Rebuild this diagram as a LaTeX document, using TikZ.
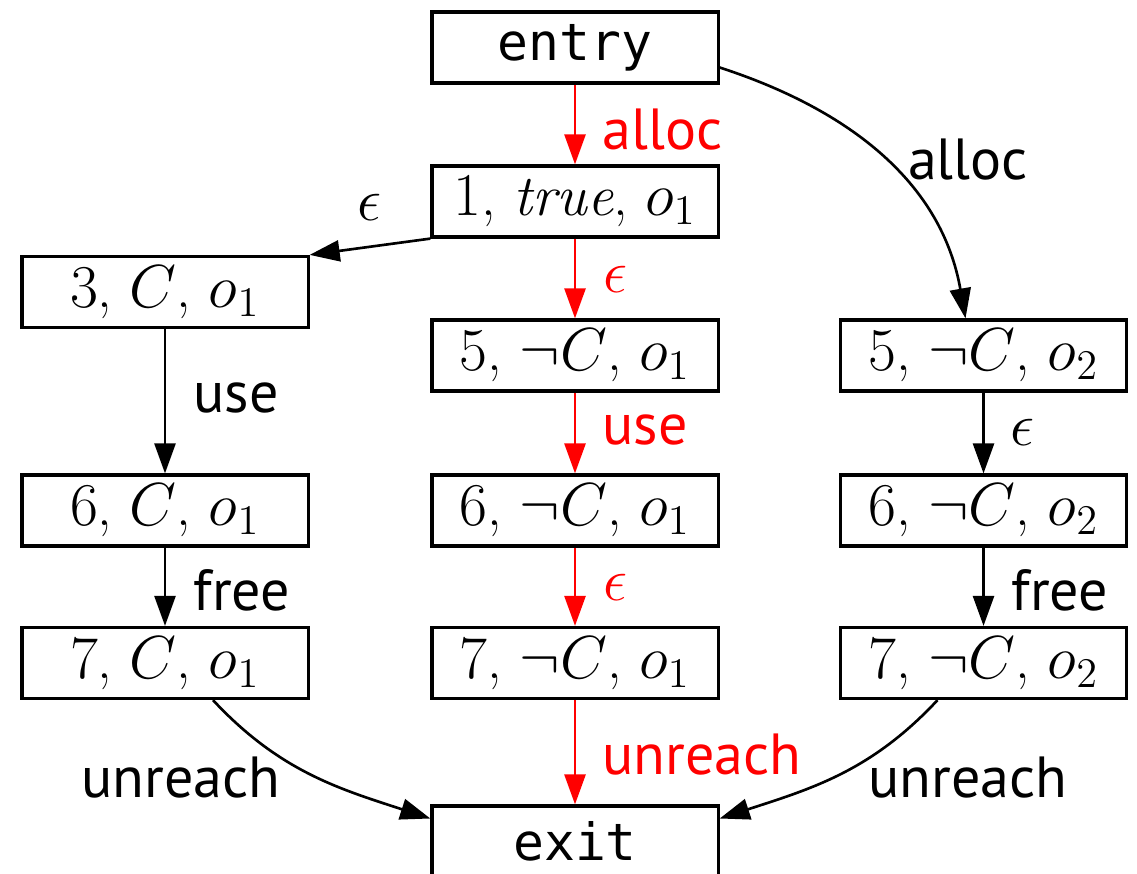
\documentclass[tikz,border=0pt]{standalone}
\usepackage{fontspec}
\setsansfont{PT Sans}
\setmonofont{DejaVu Sans Mono}
\usetikzlibrary{arrows.meta}
\tikzset{
  box/.style={draw, line width=0.9pt, minimum width=2.86cm, minimum height=0.71cm, inner sep=0pt, font=\fontsize{16.5}{19}\selectfont},
  mbox/.style={box, font=\fontsize{14.6}{17}\selectfont\ttfamily},
  edge/.style={line width=0.75pt, -{Triangle[length=0.3cm,width=0.21cm]}},
  redge/.style={edge, red},
  lbl/.style={font=\fontsize{16.5}{19}\sffamily, inner sep=0pt},
  elbl/.style={font=\fontsize{17.5}{20}\selectfont, inner sep=0pt},
}
\begin{document}
\begin{tikzpicture}[x=0.01cm,y=-0.01cm]
\useasboundingbox (0,0) rectangle (1137,873);
\node[mbox] (entry) at (575,47.5) {entry};
\node[box] (n1) at (575,201.5) {$1$, \textit{true}, $o_1$};
\node[box] (c3) at (165,292) {$3$, $C$, $o_1$};
\node[box] (a5) at (575,355.5) {$5$, $\neg C$, $o_1$};
\node[box] (b5) at (983.5,355.5) {$5$, $\neg C$, $o_2$};
\node[box] (c6) at (165,510.5) {$6$, $C$, $o_1$};
\node[box] (a6) at (575,510.5) {$6$, $\neg C$, $o_1$};
\node[box] (b6) at (983.5,510.5) {$6$, $\neg C$, $o_2$};
\node[box] (c7) at (165,663) {$7$, $C$, $o_1$};
\node[box] (a7) at (575,663) {$7$, $\neg C$, $o_1$};
\node[box] (b7) at (983.5,663) {$7$, $\neg C$, $o_2$};
\node[mbox] (exit) at (575,841.5) {exit};

\draw[redge] (entry) -- (n1);
\node[lbl, red, anchor=west] (l1) at (602,130) {alloc};
\draw[redge] (n1) -- (a5);
\node[elbl, red, anchor=west] (l2) at (603,279) {$\epsilon$};
\draw[redge] (a5) -- (a6);
\node[lbl, red, anchor=west] (l3) at (602,430) {use};
\draw[redge] (a6) -- (a7);
\node[elbl, red, anchor=west] (l4) at (603,587) {$\epsilon$};
\draw[redge] (a7) -- (exit);
\node[lbl, red, anchor=west] (l5) at (602,755) {unreach};

\draw[edge] (n1.south west) -- (c3.north east);
\node[elbl] (l6) at (370,207) {$\epsilon$};
\draw[edge] (c3) -- (c6);
\node[lbl, anchor=west] (l7) at (193,398) {use};
\draw[edge] (c6) -- (c7);
\node[lbl, anchor=west] (l8) at (193,590) {free};
\path (c7.south) ++(48,0) coordinate (c7s);
\path (exit.west) ++(0,-23) coordinate (exw);
\draw[edge] (c7s) to[out=-47, in=162] (exw);
\node[lbl] (l9) at (181,778) {unreach};

\path (entry.east) ++(0,20) coordinate (ees);
\path (b5.north) ++(-18,0) coordinate (b5n);
\draw[edge] (ees) to[out=-18, in=100] (b5n);
\node[lbl] (l10) at (968,160) {alloc};
\draw[edge] (b5) -- (b6);
\node[elbl, anchor=west] (l11) at (1010,432) {$\epsilon$};
\draw[edge] (b6) -- (b7);
\node[lbl, anchor=west] (l12) at (1011,590) {free};
\path (b7.south) ++(-46,0) coordinate (b7s);
\path (exit.east) ++(0,-23) coordinate (exe);
\draw[edge] (b7s) to[out=-133, in=18] (exe);
\node[lbl] (l13) at (968,778) {unreach};
\end{tikzpicture}
\end{document}
